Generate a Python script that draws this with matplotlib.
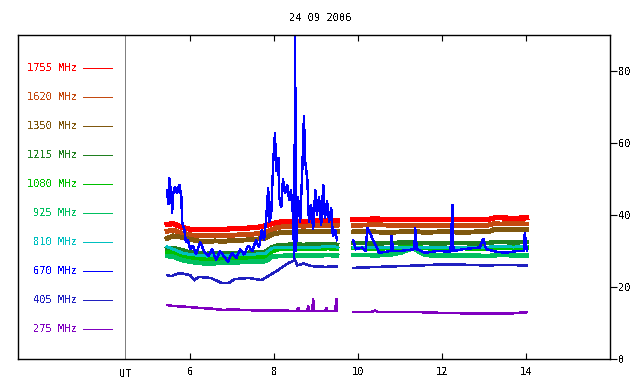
import numpy as np
import matplotlib
matplotlib.use("Agg")
import matplotlib.pyplot as plt

plt.rcParams["font.family"] = "DejaVu Sans Mono"
plt.rcParams["text.antialiased"] = False

TITLE = "24 09 2006"
freqs = ["1755", "1620", "1350", "1215", "1080", "925", "810", "670", "405", "275"]
colors = ["#ff0000", "#c44a10", "#80580f", "#208020", "#00c000",
          "#00c060", "#00c0c0", "#0000ff", "#2020c0", "#8000c0"]
xticks = [6, 8, 10, 12, 14]
yticks = [0, 20, 40, 60, 80]

# time grid (UT hours) for the smooth channels, two recording segments
t_a = [5.45, 5.6, 5.8, 6.0, 6.2, 6.4, 6.6, 6.8, 7.0, 7.2, 7.4, 7.6, 7.8, 7.95,
       8.1, 8.3, 8.5, 8.7, 8.9, 9.1, 9.3, 9.5]
t_b = [9.88, 10.1, 10.4, 10.7, 11.0, 11.3, 11.6, 11.9, 12.2, 12.5, 12.8, 13.1,
       13.25, 13.4, 13.7, 14.02]

v1755_a = [37.4, 37.6, 36.6, 36.0, 35.9, 36.0, 35.9, 36.0, 36.2, 36.2, 36.4, 36.6,
           37.0, 37.6, 38.0, 38.2, 38.3, 38.2, 38.4, 38.3, 38.5, 38.4]
v1755_b = [38.8, 38.8, 38.9, 38.8, 38.7, 38.8, 38.8, 38.7, 38.8, 38.8, 38.7, 38.8,
           39.2, 39.2, 39.1, 39.2]
v1620_a = [35.5, 35.8, 35.0, 34.5, 34.3, 34.2, 34.3, 34.3, 34.4, 34.5, 34.6, 34.8,
           35.2, 36.0, 36.6, 36.8, 37.0, 36.9, 37.0, 37.0, 37.1, 37.0]
v1620_b = [37.2, 37.2, 37.3, 37.2, 37.1, 37.2, 37.2, 37.1, 37.2, 37.2, 37.1, 37.2,
           37.6, 37.5, 37.6, 37.5]
v1350_a = [33.5, 34.2, 33.8, 33.2, 32.8, 32.6, 32.8, 32.7, 32.9, 33.0, 33.1, 33.3,
           33.6, 34.6, 35.0, 35.2, 35.3, 35.3, 35.5, 35.4, 35.5, 35.5]
v1350_b = [35.3, 35.4, 35.3, 35.2, 35.3, 35.4, 35.2, 35.3, 35.3, 35.2, 35.3, 35.3,
           36.0, 36.0, 35.9, 36.0]
v1215_a = [30.5, 30.8, 30.2, 29.6, 29.3, 29.2, 29.4, 29.3, 29.3, 29.4, 29.5, 29.6,
           29.8, 31.0, 31.6, 31.7, 31.8, 31.7, 31.8, 31.8, 31.9, 31.7]
v1215_b = [32.2, 32.2, 32.1, 32.2, 32.3, 32.3, 32.2, 32.1, 32.2, 32.2, 32.1, 32.2,
           32.5, 32.5, 32.4, 32.5]
v1080_a = [29.5, 29.6, 28.8, 28.2, 27.8, 27.6, 27.8, 27.8, 28.0, 28.0, 28.1, 28.2,
           28.4, 30.0, 30.5, 30.6, 30.6, 30.7, 30.6, 30.7, 30.8, 30.6]
v1080_b = [30.8, 30.8, 30.7, 30.8, 30.9, 31.2, 30.8, 30.7, 30.8, 30.8, 30.7, 30.8,
           31.0, 31.0, 30.9, 31.0]
v925_a = [28.6, 28.4, 27.5, 27.0, 26.7, 26.5, 26.6, 26.8, 26.8, 26.9, 27.0, 27.0,
          27.2, 28.4, 28.6, 28.7, 28.7, 28.8, 28.8, 28.8, 28.9, 28.7]
v925_b = [28.9, 28.9, 28.8, 28.9, 29.5, 30.8, 28.9, 28.7, 28.8, 28.7, 28.7, 28.6,
          28.8, 28.9, 28.8, 28.8]
v810_a = [31.2, 30.5, 29.5, 29.0, 28.8, 28.6, 28.8, 28.8, 28.9, 29.0, 29.0, 29.2,
          29.4, 30.8, 31.0, 31.0, 31.0, 31.1, 31.0, 31.1, 31.2, 31.1]
v810_b = [31.0, 31.0, 31.1, 31.0, 31.0, 31.1, 31.0, 31.0, 31.1, 31.0, 31.0, 31.1,
          31.2, 31.2, 31.1, 31.2]

t405_a = [5.45, 5.55, 5.75, 6.0, 6.1, 6.2, 6.5, 6.75, 6.95, 7.05, 7.4, 7.7, 7.9,
          8.1, 8.2, 8.35, 8.5, 8.55, 8.7, 8.9, 9.2, 9.5]
v405_a = [23.3, 23.0, 23.9, 23.3, 21.9, 22.8, 22.5, 21.1, 21.2, 22.2, 22.5, 21.9,
          23.3, 24.7, 25.6, 26.7, 27.5, 26.0, 26.5, 25.8, 25.6, 25.7]
t405_b = [9.88, 10.5, 11.0, 11.5, 12.0, 12.5, 13.0, 13.5, 14.02]
v405_b = [25.3, 25.6, 25.8, 26.0, 26.3, 26.2, 26.0, 26.1, 26.0]

t670_a = [5.45, 5.48, 5.5, 5.55, 5.57, 5.6, 5.64, 5.69, 5.74, 5.79, 5.81, 5.86,
          5.9, 5.95, 6.0, 6.07, 6.14, 6.24, 6.33, 6.43, 6.52, 6.62, 6.71, 6.81,
          6.9, 7.0, 7.1, 7.19, 7.29, 7.38, 7.48, 7.57, 7.64, 7.71, 7.76, 7.81,
          7.86, 7.88, 7.93, 7.98, 8.02, 8.05, 8.1, 8.12, 8.17, 8.21, 8.26, 8.31,
          8.36, 8.4, 8.45, 8.48, 8.5, 8.52, 8.57, 8.62, 8.67, 8.71, 8.74, 8.79,
          8.83, 8.88, 8.93, 8.98, 9.02, 9.07, 9.12, 9.17, 9.21, 9.26, 9.31, 9.36,
          9.4, 9.45, 9.5]
v670_a = [47.0, 43.0, 50.5, 46.0, 40.5, 46.0, 48.0, 46.0, 48.5, 45.0, 38.0, 36.0,
          32.5, 33.0, 30.5, 31.5, 29.0, 32.5, 30.0, 28.5, 30.5, 27.5, 30.0, 28.5,
          27.0, 29.5, 28.0, 30.5, 29.0, 31.5, 30.0, 33.0, 31.0, 36.0, 33.0, 39.0,
          47.5, 38.0, 40.0, 55.0, 62.8, 52.0, 56.0, 45.0, 42.0, 50.0, 46.0, 48.5,
          44.0, 47.0, 40.0, 27.5, 90.0, 30.0, 45.0, 38.0, 52.0, 67.5, 55.0, 50.0,
          38.0, 43.0, 36.0, 47.0, 40.0, 45.0, 37.0, 48.5, 39.0, 44.0, 38.0, 42.0,
          34.0, 36.0, 33.0]
t670_b = [9.88, 9.95, 10.1, 10.18, 10.22, 10.5, 10.78, 10.8, 10.83, 11.0, 11.34,
          11.36, 11.4, 11.6, 11.9, 12.2, 12.25, 12.27, 12.5, 12.9, 12.98, 13.05,
          13.3, 13.5, 13.8, 13.95, 13.97, 14.02]
v670_b = [33.0, 30.5, 31.0, 30.0, 36.5, 29.5, 30.0, 34.4, 30.0, 30.0, 30.5, 36.5,
          30.5, 29.5, 30.0, 29.8, 43.0, 30.0, 30.5, 31.0, 33.5, 30.5, 29.8, 29.5,
          30.0, 30.0, 35.0, 30.0]

t275_a = [5.45, 5.6, 5.8, 6.0, 6.2, 6.5, 6.8, 7.0, 7.3, 7.6, 7.9, 8.2, 8.5, 8.55,
          8.57, 8.59, 8.79, 8.81, 8.83, 8.91, 8.93, 8.95, 9.22, 9.24, 9.26, 9.46,
          9.48, 9.5]
v275_a = [15.0, 14.7, 14.6, 14.4, 14.2, 14.0, 13.6, 13.8, 13.6, 13.5, 13.4, 13.5,
          13.3, 13.3, 14.4, 13.3, 13.4, 14.7, 13.4, 13.3, 16.7, 13.3, 13.3, 14.4,
          13.3, 13.3, 16.7, 13.3]
t275_b = [9.88, 10.3, 10.4, 10.5, 10.9, 11.5, 12.0, 13.0, 13.7, 14.02]
v275_b = [13.0, 13.0, 13.4, 13.0, 13.1, 13.0, 12.8, 12.6, 12.7, 13.0]


def joined(ta, va, tb, vb):
    """Join the two recording segments with a gap."""
    t = np.concatenate([ta, [np.nan], tb])
    v = np.concatenate([va, [np.nan], vb])
    return t, v


series = [
    (t_a, v1755_a, t_b, v1755_b, 3.0),
    (t_a, v1620_a, t_b, v1620_b, 2.8),
    (t_a, v1350_a, t_b, v1350_b, 2.8),
    (t_a, v1215_a, t_b, v1215_b, 2.6),
    (t_a, v1080_a, t_b, v1080_b, 2.6),
    (t_a, v925_a, t_b, v925_b, 2.6),
    (t_a, v810_a, t_b, v810_b, 1.4),
    (t670_a, v670_a, t670_b, v670_b, 1.0),
    (t405_a, v405_a, t405_b, v405_b, 1.1),
    (t275_a, v275_a, t275_b, v275_b, 1.1),
]

fig = plt.figure(figsize=(6.4, 3.84), dpi=100)
ax = fig.add_axes([18 / 640, 1 - 359 / 384, 592 / 640, 324 / 384])

for (ta, va, tb, vb, lw), color in zip(series, colors):
    t, v = joined(ta, va, tb, vb)
    ax.plot(t, v, color=color, lw=lw, antialiased=False, solid_joinstyle="miter")

ax.set_xlim(1.9, 16.0)
ax.set_ylim(0, 90)
ax.axvline(4.45, color="#808080", lw=0.6, antialiased=False)

# legend drawn as coloured labels with short line samples
for i, (f, c) in enumerate(zip(freqs, colors)):
    y = (359 - 68 - 29 * i) / 324
    ax.text(0.0997, y, f"{f} MHz", color=c, fontsize=7.5, ha="right", va="center",
            transform=ax.transAxes)
    ax.plot([0.11, 0.159], [y, y], color=c, lw=0.72, transform=ax.transAxes,
            antialiased=False)

ax.set_xticks(xticks)
ax.set_xticklabels([str(x) for x in xticks])
ax.tick_params(axis="x", direction="in", top=True, bottom=True, length=4,
               labelsize=7.5, pad=6)
ax.yaxis.tick_right()
ax.set_yticks(yticks)
ax.tick_params(axis="y", direction="out", length=5, labelsize=7.5, pad=1)
for s in ax.spines.values():
    s.set_linewidth(1.0)

ax.text(4.45, -0.03, "UT", transform=ax.get_xaxis_transform(), fontsize=7.5,
        ha="center", va="top")
fig.text(0.5, 1 - 18 / 384, TITLE, fontsize=7.5, ha="center", va="center")

fig.savefig("out.png", dpi=100)
